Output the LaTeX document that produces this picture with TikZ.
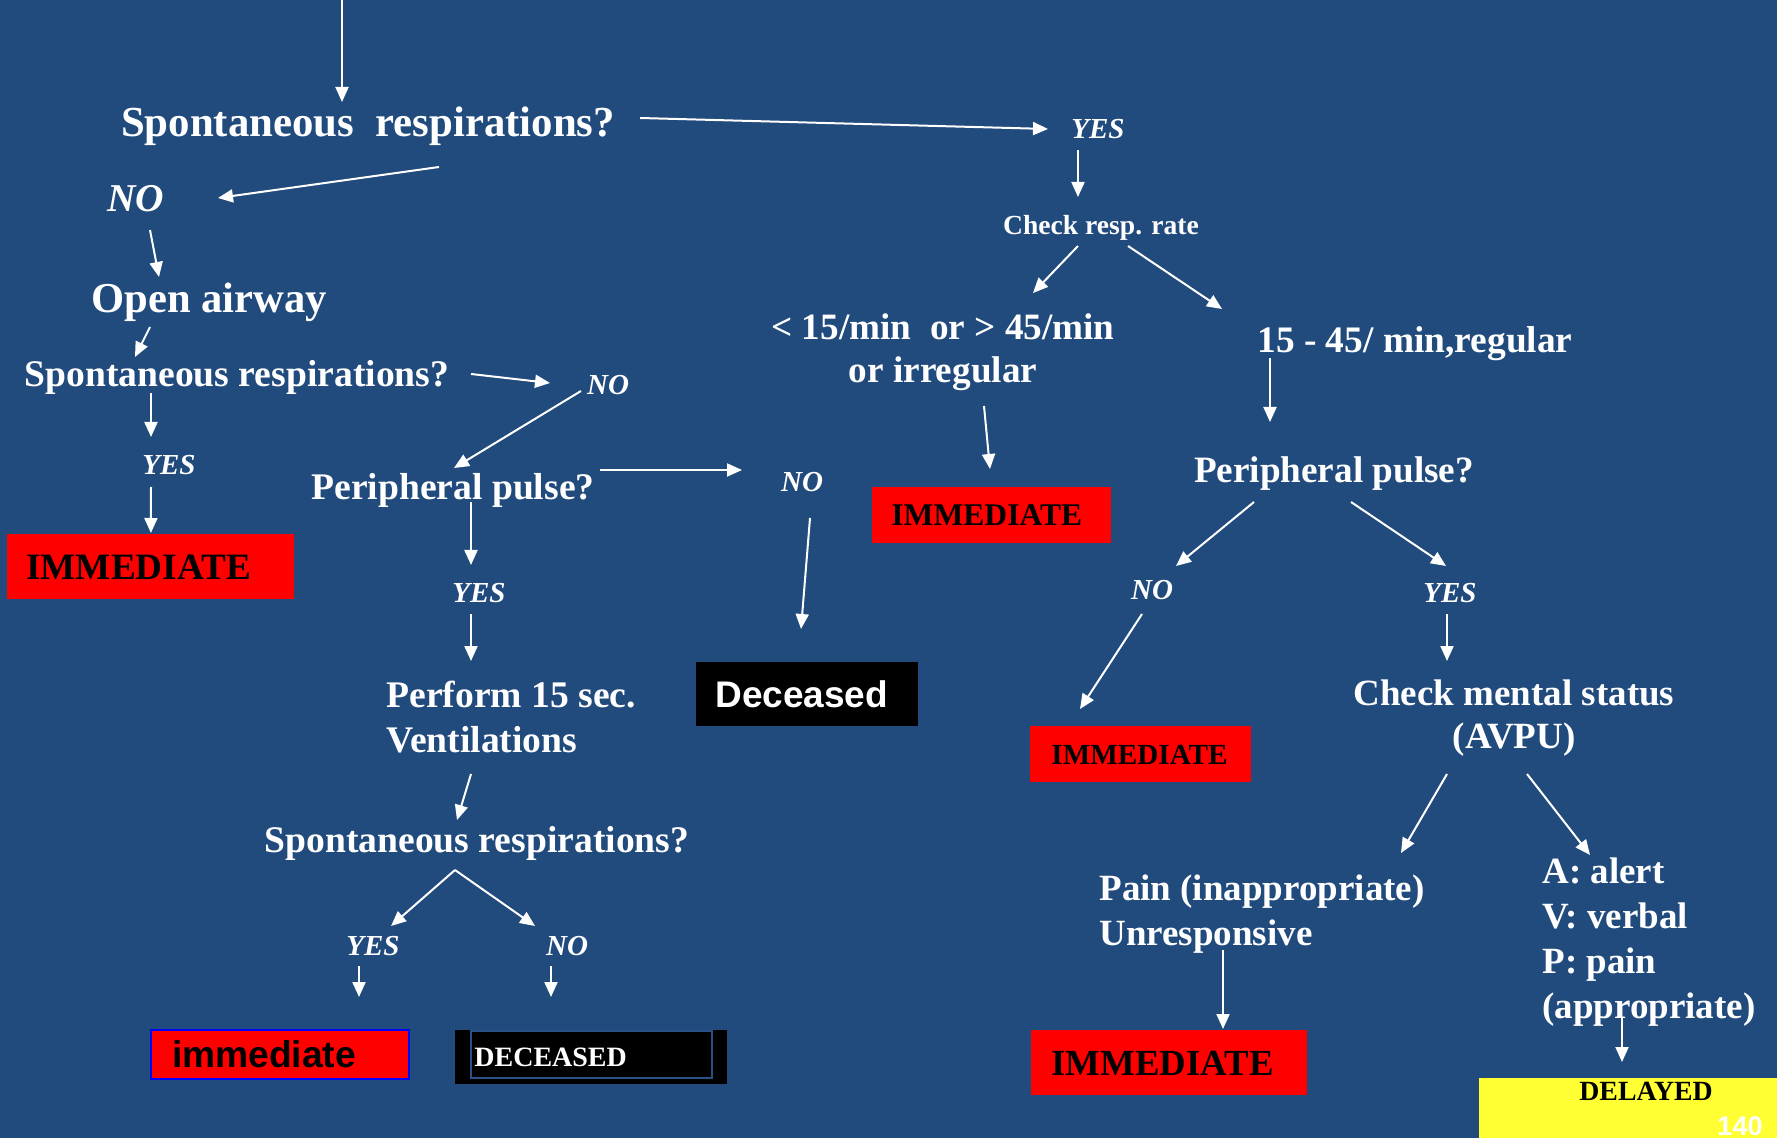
\documentclass[tikz,border=0pt]{standalone}
\usepackage{fontspec}
\setmainfont{Liberation Serif}
\setsansfont{Liberation Sans}
\usetikzlibrary{arrows.meta,calc}

\definecolor{slide}{RGB}{33,74,125}
\definecolor{alarm}{RGB}{255,0,0}
\definecolor{caution}{RGB}{255,255,51}
\definecolor{frameline}{RGB}{40,82,135}

% multi-line blocks whose baseline is the first line's baseline
\newcommand\leftlines[1]{\begin{tabular}[t]{@{}l@{}}#1\end{tabular}}
\newcommand\midlines[1]{\begin{tabular}[t]{@{}c@{}}#1\end{tabular}}

\begin{document}
\begin{tikzpicture}[x=0.5pt,y=-0.5pt,
  every node/.style={inner sep=0pt},
  lbl/.style={text=white,anchor=base,font=\bfseries\fontsize{#1pt}{22.5pt}\selectfont},
  ans/.style={text=white,anchor=base,font=\bfseries\itshape\fontsize{#1pt}{#1pt}\selectfont},
  tagbox/.style={anchor=north west,align=left,inner ysep=0pt},
  serifcap/.style={font=\bfseries\fontsize{#1pt}{#1pt}\selectfont},
  sanscap/.style={font=\sffamily\bfseries\fontsize{#1pt}{#1pt}\selectfont},
  arr/.style={draw=white,line width=1pt,-{Triangle[length=7.5pt,width=6.5pt]}},
]
\useasboundingbox (0,0) rectangle (1777,1138);
\fill[slide] (0,0) rectangle (1777,1138);

% ---------- left branch: no breathing ----------
\coordinate (top) at (342,0);
\node[lbl=21.4] (sr1) at (368,137) {Spontaneous\ \ respirations?};
\node[ans=19.7] (no1) at (136,212) {NO};
\node[lbl=21.3] (open) at (209,313) {Open airway};
\node[lbl=18.8] (sr2) at (237,387) {Spontaneous respirations?};
\node[ans=14.5] (no2) at (608,395) {NO};
\node[ans=14.5] (yes2) at (169,475) {YES};
\node[tagbox,fill=alarm,text=black,serifcap=18.6,inner xsep=9.5pt,
      text width=124.5pt,minimum height=32.5pt] (imm1) at (7,534) {IMMEDIATE};
\node[lbl=18.8] (pp1) at (453,500) {Peripheral pulse?};
\node[ans=14.5] (no3) at (802,492) {NO};
\node[tagbox,fill=black,text=white,sanscap=18.5,inner xsep=9.5pt,
      text width=92pt,minimum height=32pt] (dec1) at (696,662) {Deceased};
\node[ans=14.5] (yes3) at (479,603) {YES};
\node[lbl=18.8,anchor=base west] (perf) at (386,707) {\leftlines{Perform 15 sec.\\Ventilations}};
\node[lbl=18.8] (sr3) at (477,852) {Spontaneous respirations?};
\node[ans=14.5] (yes4) at (373,955) {YES};
\node[ans=14.5] (no4) at (567,955) {NO};
\node[tagbox,fill=alarm,draw=blue,line width=1pt,text=black,sanscap=18.6,
      inner xsep=10.5pt,text width=108pt,minimum height=24.5pt] (immlow) at (150,1029) {immediate};
\node[tagbox,fill=black,text=white,serifcap=14,inner xsep=9.5pt,
      text width=117pt,minimum height=27pt] (decl) at (455,1030) {DECEASED};
\draw[frameline,line width=0.8pt] ($(decl.north west)+(16,1)$) rectangle ($(decl.north west)+(257,48)$);

% ---------- right branch: breathing ----------
\node[ans=14.5] (yes1) at (1098,139) {YES};
\node[lbl=13.8] (crr) at (1101,235) {Check resp. rate};
\node[lbl=18.6] (lo) at (943,340) {\midlines{<\ 15/min\ \ or > 45/min\\[-1pt]or irregular}};
\node[lbl=18.7,anchor=base west] (hi) at (1257,353) {15 - 45/ min,regular};
\node[tagbox,fill=alarm,text=black,serifcap=15.8,inner xsep=9.5pt,
      text width=100.5pt,minimum height=28pt] (imm2) at (872,487) {IMMEDIATE};
\node[lbl=18.6] (pp2) at (1334,483) {Peripheral pulse?};
\node[ans=14.5] (no5) at (1152,600) {NO};
\node[ans=14.5] (yes5) at (1450,603) {YES};
\node[tagbox,fill=alarm,text=black,serifcap=14.6,inner xsep=10.5pt,
      text width=89.5pt,minimum height=28pt] (imm3) at (1030,726) {IMMEDIATE};
\node[lbl=18.5] (cms) at (1514,705) {\midlines{Check mental status\\[-1pt](AVPU)}};
\node[lbl=18.5,anchor=base west] (pain) at (1099,900) {\leftlines{Pain (inappropriate)\\Unresponsive}};
\node[lbl=18.5,anchor=base west] (avpu) at (1542,883) {\leftlines{A: alert\\V: verbal\\P: pain\\(appropriate)}};
\node[tagbox,fill=alarm,text=black,serifcap=18.4,inner xsep=10pt,
      text width=118pt,minimum height=32.5pt] (imm4) at (1031,1030) {IMMEDIATE};
\node[tagbox,fill=caution,text=black,serifcap=13.9,inner xsep=50pt,inner ysep=2pt,
      text width=49pt,text depth=16.8pt] (delay) at (1479,1078) {DELAYED};
\node[anchor=base,text=white,sanscap=13.5] (pg) at (1740,1135) {140};

% ---------- connectors ----------
\draw[arr] (top) -- ($(sr1.base)+(-26,-35)$);
\draw[arr] ($(sr1.base)+(272,-19)$) -- ($(yes1.base)+(-50,-10)$);
\draw[arr] ($(sr1.base)+(71,30)$) -- ($(no1.base)+(82,-14)$);
\draw[arr] ($(no1.base)+(14,18)$) -- ($(open.base)+(-50,-36)$);
\draw[arr] ($(open.base)+(-59,14)$) -- ($(sr2.base)+(-102,-30)$);
\draw[arr] ($(sr2.base)+(234,-13)$) -- ($(no2.base)+(-58,-12)$);
\draw[arr] ($(sr2.base)+(-86,6)$) -- ($(yes2.base)+(-18,-38)$);
\draw[arr] ($(yes2.base)+(-18,12)$) -- ($(imm1.north)+(0,-1)$);
\draw[arr] ($(no2.base)+(-27,-4)$) -- ($(pp1.base)+(1,-32)$);
\draw[arr] ($(pp1.base)+(147,-30)$) -- ($(no3.base)+(-60,-22)$);
\draw[arr] ($(no3.base)+(8,26)$) -- ($(dec1.north west)+(105,-33)$);
\draw[arr] ($(pp1.base)+(18,2)$) -- ($(yes3.base)+(-8,-38)$);
\draw[arr] ($(yes3.base)+(-8,11)$) -- ($(perf.base west)+(85,-46)$);
\draw[arr] ($(perf.base west)+(85,67)$) -- ($(sr3.base)+(-20,-32)$);
\coordinate (fork) at ($(sr3.base)+(-22,18)$);
\draw[arr] (fork) -- ($(yes4.base)+(18,-29)$);
\draw[arr] (fork) -- ($(no4.base)+(-32,-29)$);
\draw[arr] ($(yes4.base)+(-14,11)$) -- ($(immlow.north west)+(209,-32)$);
\draw[arr] ($(no4.base)+(-16,11)$) -- ($(decl.north west)+(96,-33)$);

\draw[arr] ($(yes1.base)+(-20,11)$) -- ($(crr.base)+(-23,-38)$);
\draw[arr] ($(crr.base)+(-23,11)$) -- ($(lo.base)+(90,-47)$);
\draw[arr] ($(crr.base)+(27,11)$) -- ($(hi.base west)+(-35,-44)$);
\draw[arr] ($(lo.base)+(41,66)$) -- ($(imm2.north west)+(118,-18)$);
\draw[arr] ($(hi.base west)+(13,5)$) -- ($(pp2.base)+(-64,-61)$);
\draw[arr] ($(pp2.base)+(-80,19)$) -- ($(no5.base)+(24,-34)$);
\draw[arr] ($(pp2.base)+(17,19)$) -- ($(yes5.base)+(-4,-37)$);
\draw[arr] ($(no5.base)+(-10,14)$) -- ($(imm3.north west)+(50,-17)$);
\draw[arr] ($(yes5.base)+(-3,11)$) -- ($(cms.base)+(-67,-44)$);
\draw[arr] ($(cms.base)+(-67,69)$) -- ($(pain.base west)+(302,-47)$);
\draw[arr] ($(cms.base)+(13,69)$) -- ($(avpu.base west)+(48,-28)$);
\draw[arr] ($(pain.base west)+(124,50)$) -- ($(imm4.north west)+(192,-1)$);
\draw[arr] ($(avpu.base west)+(80,134)$) -- ($(delay.north west)+(143,-16)$);
\end{tikzpicture}
\end{document}
